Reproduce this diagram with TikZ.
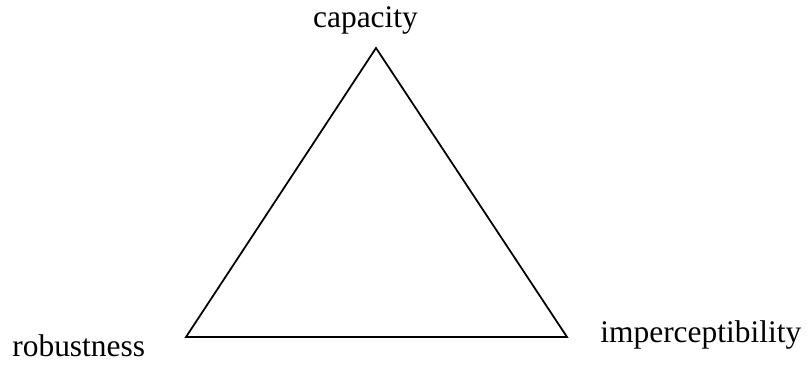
\documentclass[tikz,border=0pt]{standalone}
\usepackage{fontspec}
\setmainfont{Liberation Serif}
\usepackage{tikz}
\tikzset{
  corner/.style={font=\fontsize{17.9}{20}\selectfont, inner sep=0pt},
  side/.style={draw=black, line width=1pt, line join=miter},
}

\begin{document}
\begin{tikzpicture}[x=0.02cm, y=0.02cm]
  \useasboundingbox (0,0) rectangle (807,368);
  % corners of the triangle
  \coordinate (capv) at (376,320);
  \coordinate (robv) at (186,31);
  \coordinate (impv) at (567,31);
  \draw[side] (capv) -- (robv) -- (impv) -- cycle;
  \node[corner, anchor=base] (caplbl) at (365.5,340) {capacity};
  \node[corner, anchor=base west] (roblbl) at (12,11) {robustness};
  \node[corner, anchor=base west] (implbl) at (600,25) {imperceptibility};
\end{tikzpicture}
\end{document}
